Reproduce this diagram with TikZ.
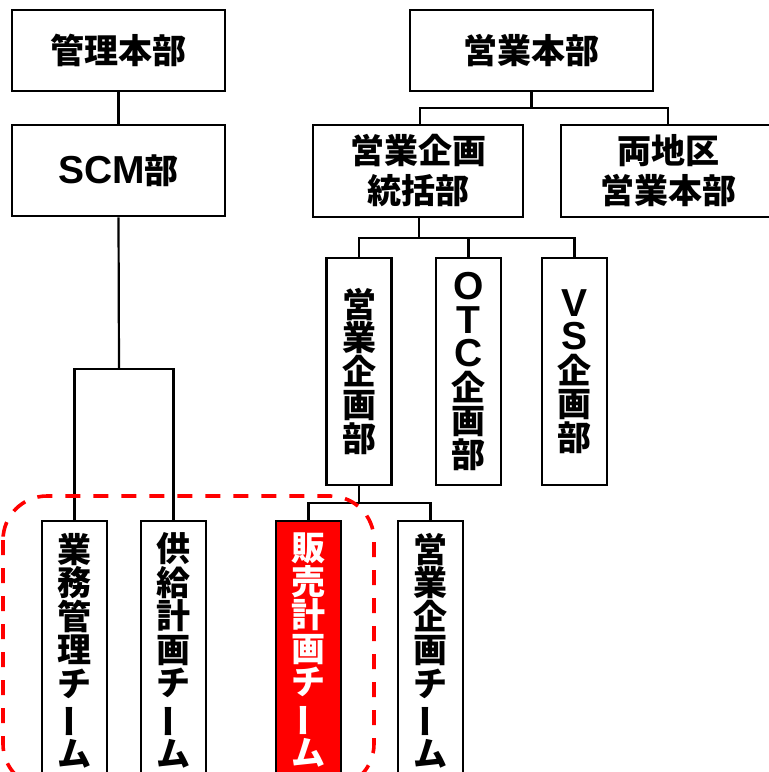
\documentclass[tikz,border=0pt]{standalone}
\usepackage{fontspec}
\usepackage{graphicx}
\newfontfamily\jpfont{Noto Sans CJK JP}
\newfontfamily\latfont{Liberation Sans}
\newcommand{\lt}[1]{{\latfont\bfseries\fontsize{39}{33}\selectfont #1}}
\newcommand{\vbar}{\rotatebox[origin=c]{90}{ー}}
\tikzset{
  conn/.style={draw=black, line width=2.2pt},
  hbox/.style={draw=black, line width=2.5pt, fill=white, inner sep=0pt,
    align=center, font=\jpfont\bfseries\fontsize{34}{40}\selectfont},
  vbox/.style={draw=black, line width=2.5pt, fill=white, inner sep=0pt,
    minimum width=65pt, align=center, font=\jpfont\bfseries\fontsize{34}{33.5}\selectfont},
  vtext/.style={inner sep=0pt, align=center, anchor=north,
    font=\jpfont\bfseries\fontsize{34}{33.5}\selectfont},
  redbox/.style={vbox, fill=red},
  groupline/.style={draw=red, line width=3.6pt, dash pattern=on 15pt off 13pt, rounded corners=44pt}
}
\begin{document}
\begin{tikzpicture}[x=1pt, y=-1pt]
\useasboundingbox (0,0) rectangle (769,772);
\clip (0,0) rectangle (769,772);
\fill[white] (0,0) rectangle (769,772);

% top level
\node[hbox, minimum width=213pt, minimum height=81pt] (kanri) at (118.5,50.5) {管理本部};
\node[hbox, minimum width=213pt, minimum height=91pt] (scm) at (118.5,170.5) {\lt{SCM}部};
\node[hbox, minimum width=243pt, minimum height=81pt] (eigyo) at (531.5,50.5) {営業本部};
\node[hbox, minimum width=210pt, minimum height=92pt] (tokatsu) at (418,171) {営業企画\\統括部};
\node[hbox, minimum width=214pt, minimum height=92pt] (ryochiku) at (668,171) {両地区\\営業本部};

% department column boxes
\node[vbox, minimum height=227pt] (ekb) at (359,371.5) {営\\業\\企\\画\\部};
\node[vbox, minimum height=227pt] (otc) at (468.5,371.5) {\lt{O}\\\lt{T}\\\lt{C}\\企\\画\\部};
\node[vbox, minimum height=227pt] (vs) at (574.5,371.5) {\lt{V}\\\lt{S}\\企\\画\\部};

% team boxes (run off the bottom)
\node[vbox, minimum height=279pt] (gyomu) at (74.5,660.5) {};
\node[vbox, minimum height=279pt] (kyokyu) at (173.5,660.5) {};
\node[redbox, minimum height=279pt] (hanbai) at (308.5,660.5) {};
\node[vbox, minimum height=279pt] (eteam) at (430.5,660.5) {};

\node[vtext] (gyomut) at ([yshift=-13pt]gyomu.north) {業\\務\\管\\理\\チ\\\vbar\\ム};
\node[vtext] (kyokyut) at ([yshift=-13pt]kyokyu.north) {供\\給\\計\\画\\チ\\\vbar\\ム};
\node[vtext, text=white] (hanbait) at ([yshift=-13pt]hanbai.north) {販\\売\\計\\画\\チ\\\vbar\\ム};
\node[vtext] (eteamt) at ([yshift=-13pt]eteam.north) {営\\業\\企\\画\\チ\\\vbar\\ム};

% junction points
\coordinate (j1) at (119,369);
\coordinate (j2) at (531.5,108);
\coordinate (j3) at (419,238);
\coordinate (j4) at (359,503);

% connectors
\draw[conn] (kanri.south) -- (scm.north);
\draw[conn] (scm.south) -- (j1);
\draw[conn] (gyomu.north) |- (j1) -| (kyokyu.north);
\draw[conn] (eigyo.south) -- (j2);
\draw[conn] ([xshift=2pt]tokatsu.north) |- (j2) -| (ryochiku.north);
\draw[conn] ([xshift=1pt]tokatsu.south) -- (j3);
\draw[conn] (ekb.north) |- (j3) -| (vs.north);
\draw[conn] (otc.north) -- (otc.north |- j3);
\draw[conn] (ekb.south) -- (j4);
\draw[conn] (hanbai.north) |- (j4) -| (eteam.north);

% group frame
\draw[groupline] (3,496) rectangle (374,788);
\end{tikzpicture}
\end{document}
